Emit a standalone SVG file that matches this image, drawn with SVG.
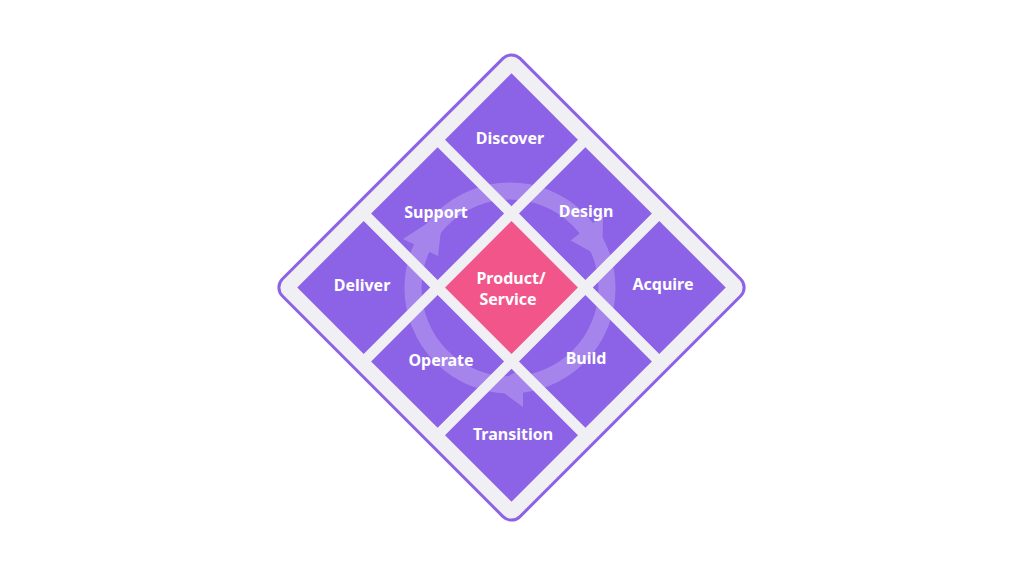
<svg xmlns="http://www.w3.org/2000/svg" width="1024" height="576" viewBox="0 0 1024 576">
<style>
.cell{fill:#8c63e6}
.core{fill:#f2558a}
.lbl{font-family:"Noto Sans","Open Sans","Liberation Sans",sans-serif;font-weight:700;font-size:16px;fill:#ffffff;text-anchor:middle}
</style>
<defs>
<clipPath id="cells">
<rect transform="translate(511.5,287.5) rotate(45)" x="-151.5" y="-151.5" width="94" height="94"/>
<rect transform="translate(511.5,287.5) rotate(45)" x="-47" y="-151.5" width="94" height="94"/>
<rect transform="translate(511.5,287.5) rotate(45)" x="57.5" y="-151.5" width="94" height="94"/>
<rect transform="translate(511.5,287.5) rotate(45)" x="-151.5" y="-47" width="94" height="94"/>
<rect transform="translate(511.5,287.5) rotate(45)" x="57.5" y="-47" width="94" height="94"/>
<rect transform="translate(511.5,287.5) rotate(45)" x="-151.5" y="57.5" width="94" height="94"/>
<rect transform="translate(511.5,287.5) rotate(45)" x="-47" y="57.5" width="94" height="94"/>
<rect transform="translate(511.5,287.5) rotate(45)" x="57.5" y="57.5" width="94" height="94"/>
</clipPath>
</defs>
<rect width="1024" height="576" fill="#ffffff"/>
<g id="frame" transform="translate(511.5,287.5) rotate(45)">
<rect x="-168" y="-168" width="336" height="336" rx="12" fill="#f0eff3" stroke="#8c63e6" stroke-width="3"/>
</g>
<g id="grid" transform="translate(511.5,287.5) rotate(45)">
<rect id="discover-cell" class="cell" x="-151.5" y="-151.5" width="94" height="94"/>
<rect id="design-cell" class="cell" x="-47" y="-151.5" width="94" height="94"/>
<rect id="acquire-cell" class="cell" x="57.5" y="-151.5" width="94" height="94"/>
<rect id="support-cell" class="cell" x="-151.5" y="-47" width="94" height="94"/>
<rect id="center-cell" class="core" x="-47" y="-47" width="94" height="94"/>
<rect id="build-cell" class="cell" x="57.5" y="-47" width="94" height="94"/>
<rect id="deliver-cell" class="cell" x="-151.5" y="57.5" width="94" height="94"/>
<rect id="operate-cell" class="cell" x="-47" y="57.5" width="94" height="94"/>
<rect id="transition-cell" class="cell" x="57.5" y="57.5" width="94" height="94"/>
</g>
<g id="connectors" clip-path="url(#cells)">
<g opacity="0.22" fill="#ffffff">
<circle cx="510" cy="288" r="97" fill="none" stroke="#ffffff" stroke-width="17"/>
<polygon points="438,256 403,239 443,213"/>
<polygon points="570.7,240.6 603,215 602.3,258"/>
<polygon points="523,368 523,407 493,385"/>
</g>
</g>
<g id="n-discover"><text class="lbl" x="510" y="144">Discover</text></g>
<g id="n-design"><text class="lbl" x="586" y="217">Design</text></g>
<g id="n-support"><text class="lbl" x="436" y="218">Support</text></g>
<g id="n-deliver"><text class="lbl" x="362" y="291">Deliver</text></g>
<g id="n-product"><text class="lbl" x="511" y="284">Product/</text><text class="lbl" x="508" y="305">Service</text></g>
<g id="n-acquire"><text class="lbl" x="663" y="290">Acquire</text></g>
<g id="n-operate"><text class="lbl" x="441" y="366">Operate</text></g>
<g id="n-build"><text class="lbl" x="586" y="364">Build</text></g>
<g id="n-transition"><text class="lbl" x="513" y="440">Transition</text></g>
</svg>
